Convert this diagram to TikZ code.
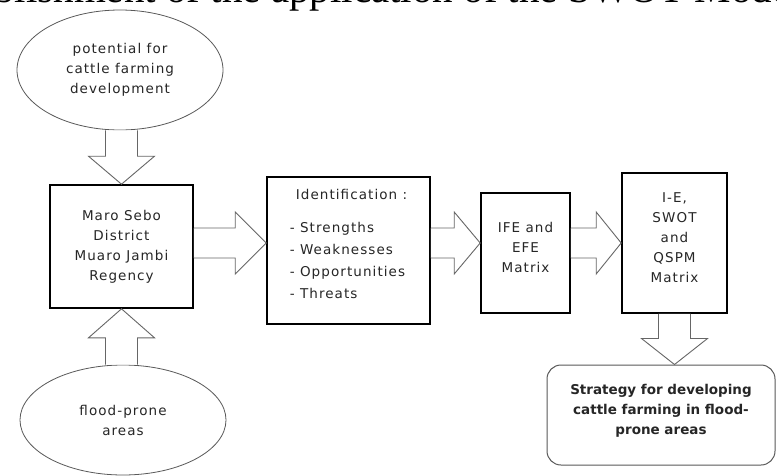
\documentclass[tikz,border=0pt]{standalone}
\usepackage{fontspec}
\newfontfamily\dv[LetterSpace=8]{DejaVu Sans}
\newfontfamily\dvs{DejaVu Sans}
\newfontfamily\capfont{Liberation Serif}
\usetikzlibrary{shapes.geometric,calc}
\tikzset{
  txt/.style={font=\dv\fontsize{13.5}{20}\selectfont, text=black!85, align=center, inner sep=0pt},
  boxnode/.style={txt, draw=black, line width=1.6pt, fill=white},
  ellnode/.style={txt, ellipse, draw=black!65, line width=0.8pt, fill=white},
  roundnode/.style={draw=black!65, line width=1pt, rounded corners=14pt, fill=white, align=center, inner sep=0pt,
     font=\dvs\bfseries\fontsize{13.5}{20}\selectfont, text=black!85},
  barrow/.style={draw=black!60, line width=0.9pt, fill=white, line join=miter},
}
\newcommand\barrowh[3]{\draw[barrow] let \p1=(#1),\p2=(#2) in
  (\x1,\y1+15pt) -- (\x2-#3pt,\y1+15pt) -- (\x2-#3pt,\y1+31pt) -- (\x2,\y1) --
  (\x2-#3pt,\y1-31pt) -- (\x2-#3pt,\y1-15pt) -- (\x1,\y1-15pt);}
\newcommand\barrowd[3]{\draw[barrow] let \p1=(#1),\p2=(#2) in
  (\x1-16pt,\y1) -- (\x1-16pt,\y2+#3pt) -- (\x1-33pt,\y2+#3pt) -- (\x1,\y2) --
  (\x1+33pt,\y2+#3pt) -- (\x1+16pt,\y2+#3pt) -- (\x1+16pt,\y1);}
\newcommand\barrowu[3]{\draw[barrow] let \p1=(#1),\p2=(#2) in
  (\x1-16pt,\y1) -- (\x1-16pt,\y2-#3pt) -- (\x1-33pt,\y2-#3pt) -- (\x1,\y2) --
  (\x1+33pt,\y2-#3pt) -- (\x1+16pt,\y2-#3pt) -- (\x1+16pt,\y1);}
\begin{document}
\begin{tikzpicture}[x=1pt,y=-1pt]
\useasboundingbox (0,0) rectangle (777,475);
\fill[white] (0,0) rectangle (777,475);
\begin{scope}
\clip (0,0) rectangle (777,475);
\node[anchor=base west, inner sep=0pt, font=\capfont\fontsize{41}{45}\selectfont] (cap) at (-76.5,2.5) {Establishment of the application of the SWOT Model};

% nodes
\node[ellnode, minimum width=206pt, minimum height=120pt] (pe) at (120,70)
  {potential for\\cattle farming\\development};
\node[ellnode, minimum width=206pt, minimum height=110pt] (fe) at (123,420)
  {flood-prone\\areas};
\node[boxnode, minimum width=143pt, minimum height=123pt] (ms) at (121.5,246.5)
  {Maro Sebo\\District\\Muaro Jambi\\Regency};
\node[boxnode, minimum width=163pt, minimum height=147pt, align=left, text depth=13pt] (idb) at (348.5,250.5)
  {\hspace{6pt}Identification :\\[13pt]- Strengths\\[2pt]- Weaknesses\\[2pt]- Opportunities\\[2pt]- Threats};
\node[boxnode, minimum width=89pt, minimum height=120pt, text depth=12pt] (ife) at (525.5,253)
  {IFE and\\EFE\\Matrix};
\node[boxnode, minimum width=105pt, minimum height=140pt, text depth=11pt] (ie) at (674.5,243)
  {I-E,\\SWOT\\and\\QSPM\\Matrix};
\node[roundnode, minimum width=228pt, minimum height=100pt, text depth=12pt] (st) at (661,415)
  {Strategy for developing\\cattle farming in flood-\\prone areas};

\coordinate (row) at (0,243);
% block arrows
\barrowd{ms.north |- pe.south}{ms.north}{28}
\barrowu{ms.south |- fe.north}{ms.south}{29}
\barrowh{ms.east |- row}{idb.west |- row}{31}
\barrowh{idb.east |- row}{ife.west |- row}{26}
\barrowh{ife.east |- row}{ie.west |- row}{25}
\barrowd{ie.south}{ie.south |- st.north}{26}
\end{scope}
\end{tikzpicture}
\end{document}
